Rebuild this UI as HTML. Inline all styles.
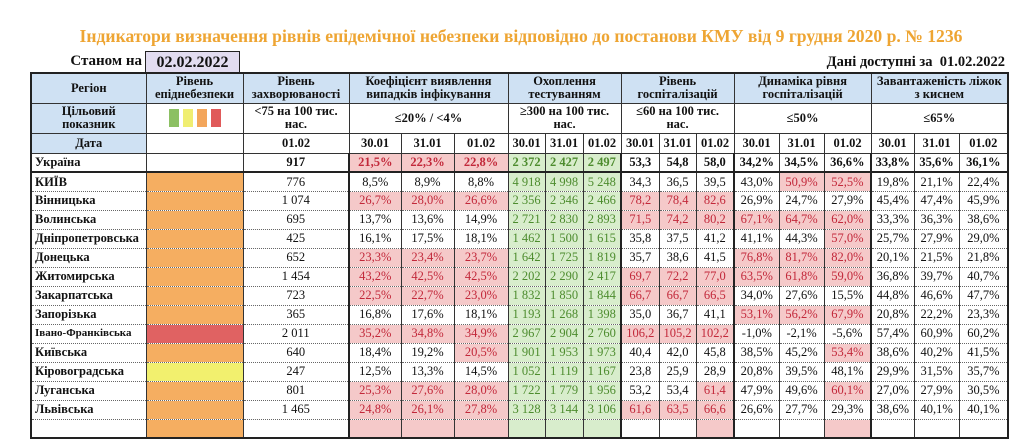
<!DOCTYPE html>
<html><head><meta charset="utf-8">
<style>
body{margin:0;width:1024px;height:425px;overflow:hidden;background:#fff;font-family:"Liberation Serif",serif;color:#111;position:relative}
.title{position:absolute;left:0;top:26px;width:1042px;text-align:center;font-weight:bold;font-size:17.6px;color:#eea533;white-space:nowrap}
.st{position:absolute;left:30px;top:53px;width:112px;text-align:right;font-weight:bold;font-size:15px}
.dt{position:absolute;left:145px;top:51px;width:95px;height:21px;background:#e2dcf0;border:1px solid #222;border-bottom:none;text-align:center;font-weight:bold;font-size:16px;line-height:21px;box-sizing:border-box}
.av{position:absolute;right:19px;top:54px;font-weight:bold;font-size:14.5px}
table{position:absolute;left:30px;top:72px;width:977px;border-collapse:collapse;table-layout:fixed;font-size:12.5px}
td{padding:0;text-align:center;border-left:1px solid #333;border-right:1px solid #333;border-top:1px dotted #666;border-bottom:1px dotted #666;white-space:nowrap;overflow:hidden;line-height:1}
tr.h td{border:1px solid #333;font-weight:bold;white-space:normal;line-height:13px}
tr.h1 td{background:#cfe1f3;font-size:12.5px}
td.rg{text-align:left;padding-left:3px;font-weight:bold}
td.b{background:#cfe1f3}
.r{background:#f5c9c9;color:#c2283a}
.g{background:#d8edcc;color:#4d8c2e}
.o{background:#f5ae61}
.y{background:#f2f06e}
.rd{background:#e06262}
tr.u td{font-weight:bold;border-bottom:2px solid #222}
tr.d{height:19px}
tr.d td:nth-child(3){border-right:2px solid #222}
tr.d td:nth-child(9),tr.d td:nth-child(12),tr.d td:nth-child(15){border-right:2px solid #222}
.sq{display:inline-block;width:10px;height:18px;margin:0 2px;vertical-align:middle}
</style></head><body>
<div class="title">Індикатори визначення рівнів епідемічної небезпеки відповідно до постанови КМУ від 9 грудня 2020 р. № 1236</div>
<div class="st">Станом на</div>
<div class="dt">02.02.2022</div>
<div class="av">Дані доступні за&nbsp; 01.02.2022</div>
<table style="border:2px solid #222">
<colgroup><col style="width:115px"><col style="width:97px"><col style="width:106px"><col style="width:52px"><col style="width:53px"><col style="width:54px"><col style="width:37px"><col style="width:38px"><col style="width:38px"><col style="width:38px"><col style="width:37px"><col style="width:38px"><col style="width:45px"><col style="width:45px"><col style="width:47px"><col style="width:43px"><col style="width:45px"><col style="width:49px"></colgroup>
<tr class="h h1" style="height:30px"><td>Регіон</td><td>Рівень епіднебезпеки</td><td>Рівень захворюваності</td><td colspan="3">Коефіцієнт виявлення випадків інфікування</td><td colspan="3">Охоплення тестуванням</td><td colspan="3">Рівень госпіталізацій</td><td colspan="3">Динаміка рівня госпіталізацій</td><td colspan="3">Завантаженість ліжок<br>з киснем</td></tr>
<tr class="h" style="height:30px"><td class="b">Цільовий<br>показник</td><td><span class="sq" style="background:#8cc063"></span><span class="sq" style="background:#f0ee72"></span><span class="sq" style="background:#f3a65c"></span><span class="sq" style="background:#e05a5a"></span></td><td>&lt;75 на 100 тис.<br>нас.</td><td colspan="3">≤20% / &lt;4%</td><td colspan="3">≥300 на 100 тис.<br>нас.</td><td colspan="3">≤60 на 100 тис.<br>нас.</td><td colspan="3">≤50%</td><td colspan="3">≤65%</td></tr>
<tr class="h" style="height:20px"><td class="b">Дата</td><td></td><td>01.02</td><td>30.01</td><td>31.01</td><td>01.02</td><td>30.01</td><td>31.01</td><td>01.02</td><td>30.01</td><td>31.01</td><td>01.02</td><td>30.01</td><td>31.01</td><td>01.02</td><td>30.01</td><td>31.01</td><td>01.02</td></tr>
<tr class="d u"><td class="rg">Україна</td><td></td><td>917</td><td class="r">21,5%</td><td class="r">22,3%</td><td class="r">22,8%</td><td class="g">2 372</td><td class="g">2 427</td><td class="g">2 497</td><td>53,3</td><td>54,8</td><td>58,0</td><td>34,2%</td><td>34,5%</td><td>36,6%</td><td>33,8%</td><td>35,6%</td><td>36,1%</td></tr>
<tr class="d"><td class="rg">КИЇВ</td><td class="o"></td><td>776</td><td>8,5%</td><td>8,9%</td><td>8,8%</td><td class="g">4 918</td><td class="g">4 998</td><td class="g">5 248</td><td>34,3</td><td>36,5</td><td>39,5</td><td>43,0%</td><td class="r">50,9%</td><td class="r">52,5%</td><td>19,8%</td><td>21,1%</td><td>22,4%</td></tr>
<tr class="d"><td class="rg">Вінницька</td><td class="o"></td><td>1 074</td><td class="r">26,7%</td><td class="r">28,0%</td><td class="r">26,6%</td><td class="g">2 356</td><td class="g">2 346</td><td class="g">2 466</td><td class="r">78,2</td><td class="r">78,4</td><td class="r">82,6</td><td>26,9%</td><td>24,7%</td><td>27,9%</td><td>45,4%</td><td>47,4%</td><td>45,9%</td></tr>
<tr class="d"><td class="rg">Волинська</td><td class="o"></td><td>695</td><td>13,7%</td><td>13,6%</td><td>14,9%</td><td class="g">2 721</td><td class="g">2 830</td><td class="g">2 893</td><td class="r">71,5</td><td class="r">74,2</td><td class="r">80,2</td><td class="r">67,1%</td><td class="r">64,7%</td><td class="r">62,0%</td><td>33,3%</td><td>36,3%</td><td>38,6%</td></tr>
<tr class="d"><td class="rg">Дніпропетровська</td><td class="o"></td><td>425</td><td>16,1%</td><td>17,5%</td><td>18,1%</td><td class="g">1 462</td><td class="g">1 500</td><td class="g">1 615</td><td>35,8</td><td>37,5</td><td>41,2</td><td>41,1%</td><td>44,3%</td><td class="r">57,0%</td><td>25,7%</td><td>27,9%</td><td>29,0%</td></tr>
<tr class="d"><td class="rg">Донецька</td><td class="o"></td><td>652</td><td class="r">23,3%</td><td class="r">23,4%</td><td class="r">23,7%</td><td class="g">1 642</td><td class="g">1 725</td><td class="g">1 819</td><td>35,7</td><td>38,6</td><td>41,5</td><td class="r">76,8%</td><td class="r">81,7%</td><td class="r">82,0%</td><td>20,1%</td><td>21,5%</td><td>21,8%</td></tr>
<tr class="d"><td class="rg">Житомирська</td><td class="o"></td><td>1 454</td><td class="r">43,2%</td><td class="r">42,5%</td><td class="r">42,5%</td><td class="g">2 202</td><td class="g">2 290</td><td class="g">2 417</td><td class="r">69,7</td><td class="r">72,2</td><td class="r">77,0</td><td class="r">63,5%</td><td class="r">61,8%</td><td class="r">59,0%</td><td>36,8%</td><td>39,7%</td><td>40,7%</td></tr>
<tr class="d"><td class="rg">Закарпатська</td><td class="o"></td><td>723</td><td class="r">22,5%</td><td class="r">22,7%</td><td class="r">23,0%</td><td class="g">1 832</td><td class="g">1 850</td><td class="g">1 844</td><td class="r">66,7</td><td class="r">66,7</td><td class="r">66,5</td><td>34,0%</td><td>27,6%</td><td>15,5%</td><td>44,8%</td><td>46,6%</td><td>47,7%</td></tr>
<tr class="d"><td class="rg">Запорізька</td><td class="o"></td><td>365</td><td>16,8%</td><td>17,6%</td><td>18,1%</td><td class="g">1 193</td><td class="g">1 268</td><td class="g">1 398</td><td>35,0</td><td>36,7</td><td>41,1</td><td class="r">53,1%</td><td class="r">56,2%</td><td class="r">67,9%</td><td>20,8%</td><td>22,2%</td><td>23,3%</td></tr>
<tr class="d"><td class="rg" style="font-size:11px">Івано-Франківська</td><td class="rd"></td><td>2 011</td><td class="r">35,2%</td><td class="r">34,8%</td><td class="r">34,9%</td><td class="g">2 967</td><td class="g">2 904</td><td class="g">2 760</td><td class="r">106,2</td><td class="r">105,2</td><td class="r">102,2</td><td>-1,0%</td><td>-2,1%</td><td>-5,6%</td><td>57,4%</td><td>60,9%</td><td>60,2%</td></tr>
<tr class="d"><td class="rg">Київська</td><td class="o"></td><td>640</td><td>18,4%</td><td>19,2%</td><td class="r">20,5%</td><td class="g">1 901</td><td class="g">1 953</td><td class="g">1 973</td><td>40,4</td><td>42,0</td><td>45,8</td><td>38,5%</td><td>45,2%</td><td class="r">53,4%</td><td>38,6%</td><td>40,2%</td><td>41,5%</td></tr>
<tr class="d"><td class="rg">Кіровоградська</td><td class="y"></td><td>247</td><td>12,5%</td><td>13,3%</td><td>14,5%</td><td class="g">1 052</td><td class="g">1 119</td><td class="g">1 167</td><td>23,8</td><td>25,9</td><td>28,9</td><td>20,8%</td><td>39,5%</td><td>48,1%</td><td>29,9%</td><td>31,5%</td><td>35,7%</td></tr>
<tr class="d"><td class="rg">Луганська</td><td class="o"></td><td>801</td><td class="r">25,3%</td><td class="r">27,6%</td><td class="r">28,0%</td><td class="g">1 722</td><td class="g">1 779</td><td class="g">1 956</td><td>53,2</td><td>53,4</td><td class="r">61,4</td><td>47,9%</td><td>49,6%</td><td class="r">60,1%</td><td>27,0%</td><td>27,9%</td><td>30,5%</td></tr>
<tr class="d"><td class="rg">Львівська</td><td class="o"></td><td>1 465</td><td class="r">24,8%</td><td class="r">26,1%</td><td class="r">27,8%</td><td class="g">3 128</td><td class="g">3 144</td><td class="g">3 106</td><td class="r">61,6</td><td class="r">63,5</td><td class="r">66,6</td><td>26,6%</td><td>27,7%</td><td>29,3%</td><td>38,6%</td><td>40,1%</td><td>40,1%</td></tr>
<tr class="d"><td class="rg"></td><td class="o"></td><td></td><td class="r"></td><td class="r"></td><td class="r"></td><td class="g"></td><td class="g"></td><td class="g"></td><td></td><td></td><td class="r"></td><td></td><td></td><td class="r"></td><td></td><td></td><td></td></tr>
</table>
</body></html>
